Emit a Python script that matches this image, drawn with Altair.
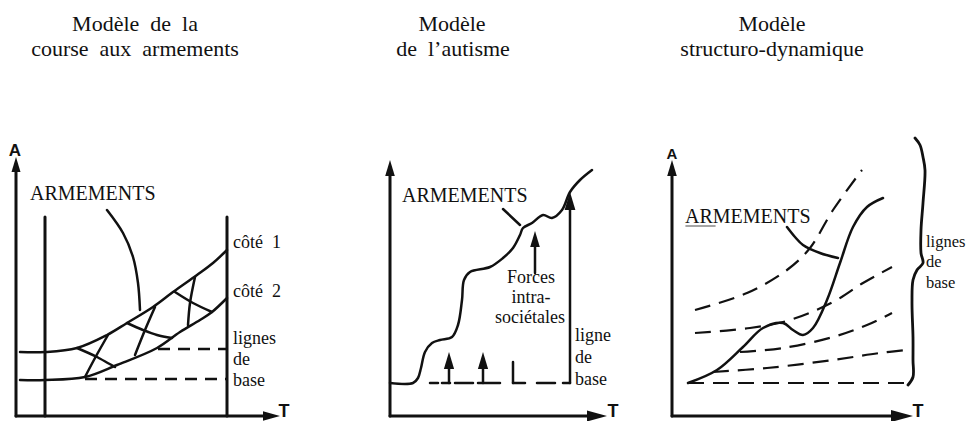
import altair as alt
import pandas as pd

# ---------------- drawing data (diagram coordinates) ----------------
# Panel 1 : Modèle de la course aux armements
p1_axis_y_x = [16, 16];          p1_axis_y_y = [166, 416]
p1_axis_x_x = [16, 268];         p1_axis_x_y = [416, 416]
p1_left_x = [45, 45];            p1_left_y = [217, 416]
p1_right_x = [227, 227];         p1_right_y = [217, 416]
p1_side1_x = [20, 45, 77, 107, 127, 153, 173, 197, 213, 227]
p1_side1_y = [352, 352, 348, 335, 323, 307, 292, 275, 263, 250]
p1_side2_x = [20, 45, 85, 117, 157, 180, 200, 212, 227]
p1_side2_y = [380, 380, 377, 365, 348, 332, 320, 312, 298]
p1_h1_x = [77, 97, 115];         p1_h1_y = [348, 357, 367]
p1_h2_x = [85, 95, 108];         p1_h2_y = [377, 358, 335]
p1_h3_x = [127, 143, 157, 172];  p1_h3_y = [323, 330, 335, 338]
p1_h4_x = [135, 145, 155];       p1_h4_y = [355, 330, 307]
p1_h5_x = [175, 193, 212];       p1_h5_y = [292, 303, 312]
p1_h6_x = [188, 190, 195];       p1_h6_y = [325, 303, 277]
p1_ptr_x = [107, 123, 133, 138, 140]
p1_ptr_y = [210, 233, 257, 283, 310]
p1_dash_hi_x = [158, 227];       p1_dash_hi_y = [349, 349]
p1_dash_lo_x = [85, 227];        p1_dash_lo_y = [379, 379]

# Panel 2 : Modèle de l'autisme
p2_axis_y_x = [390, 390];        p2_axis_y_y = [172, 416]
p2_axis_x_x = [390, 592];        p2_axis_x_y = [416, 416]
p2_curve_x = [390, 413, 418, 421, 425, 432, 440, 452, 458, 462, 464, 470, 490,
              503, 513, 520, 523, 532, 543, 552, 562, 570, 580, 592]
p2_curve_y = [383, 383, 378, 368, 352, 343, 340, 337, 325, 300, 280, 272, 267,
              258, 248, 235, 228, 223, 215, 218, 210, 192, 180, 170]
p2_ptr_x = [503, 520];           p2_ptr_y = [209, 225]
p2_base_pieces = [  # (x0, x1) on the ligne de base
    (430, 438), (442, 450), (455, 473), (478, 500), (513, 525), (537, 555), (563, 570)]
p2_base_y = 383
p2_shafts = [  # (x, y_bottom, y_top)
    (449, 383, 366), (483, 383, 366), (513, 383, 362), (535, 273, 245), (570, 383, 206)]

# Panel 3 : Modèle structuro-dynamique
p3_axis_y_x = [672, 672];        p3_axis_y_y = [172, 416]
p3_axis_x_x = [672, 894];        p3_axis_x_y = [416, 416]
p3_curve_x = [688, 717, 743, 763, 783, 793, 803, 813, 827, 840, 853, 867, 883]
p3_curve_y = [383, 370, 347, 328, 323, 330, 335, 328, 300, 263, 227, 207, 198]
p3_ptr_x = [787, 795, 803, 820, 838]
p3_ptr_y = [227, 237, 245, 253, 258]
p3_d1_x = [695, 747, 787, 810, 833, 862];  p3_d1_y = [310, 293, 270, 248, 210, 170]
p3_d2_x = [695, 750, 790, 833, 863, 892];  p3_d2_y = [333, 328, 320, 302, 283, 267]
p3_d3_x = [740, 783, 833, 867, 892];       p3_d3_y = [352, 348, 337, 325, 313]
p3_d4_x = [713, 767, 833, 880, 907];       p3_d4_y = [372, 368, 360, 353, 350]
p3_d5_x = [688, 907];                      p3_d5_y = [383, 383]
p3_brace_x = [915, 920, 923, 925, 923, 921, 921, 923, 917, 913, 912, 913, 913, 913, 908]
p3_brace_y = [138, 145, 157, 170, 203, 230, 253, 263, 270, 280, 303, 337, 360, 377, 385]
p3_uline_x = [686, 715];                   p3_uline_y = [226, 226]

# arrow heads: centre x, centre y, size
up_x = [16, 390, 672, 449, 483, 535, 570]
up_y = [164.5, 168, 168, 360.5, 360.5, 239, 201]
up_s = [225, 256, 256, 289, 289, 256, 324]
right_x = [271.5, 597, 902]
right_y = [416, 416, 416]
right_s = [289, 400, 484]

# texts
title_text = ["Modèle\u00a0 de\u00a0 la", "course\u00a0 aux\u00a0 armements", "Modèle",
              "de\u00a0 l’autisme", "Modèle", "structuro-dynamique"]
title_x = [135, 135, 452, 453, 772, 772]
title_y = [31, 56, 31, 56, 31, 56]
caps_text = ["ARMEMENTS", "ARMEMENTS", "ARMEMENTS"]
caps_x = [30, 402, 685]
caps_y = [200, 202, 223]
lab_text = ["côté\u00a0 1", "côté\u00a0 2", "lignes", "de", "base",
            "ligne", "de", "base"]
lab_x = [233, 233, 233, 233, 233, 575, 575, 575]
lab_y = [248, 297, 344, 365, 386, 341, 363, 385]
lab3_text = ["lignes", "de", "base"]
lab3_x = [926, 926, 926]
lab3_y = [247, 267, 288]
forces_text = ["Forces", "intra-", "sociétales"]
forces_x = [531, 531, 530]
forces_y = [283, 303, 323]
letter_text = ["A", "A", "T", "T", "T"]
letter_x = [15, 672, 284, 613, 918]
letter_y = [156, 159, 421, 421, 421]
letter_s = [17, 15, 18, 18, 18]
letter_base = ["alphabetic", "alphabetic", "bottom", "bottom", "bottom"]

# ---------------- chart construction ----------------
INK = "#111111"
XS = alt.Scale(domain=[8, 968], range=[0, 960], nice=False, zero=False)
YS = alt.Scale(domain=[8, 421], range=[0, 413], nice=False, zero=False)
X = alt.X("x:Q", scale=XS, axis=None)
Y = alt.Y("y:Q", scale=YS, axis=None)


def table(lines):
    rows = []
    for name, xs, ys in lines:
        for i, (x, y) in enumerate(zip(xs, ys)):
            rows.append({"id": name, "i": i, "x": x, "y": y})
    return pd.DataFrame(rows)


def line_layer(lines, width, interp, dash=None, color=INK):
    kw = dict(color=color, strokeWidth=width, interpolate=interp,
              strokeCap="butt" if dash else "round", strokeJoin="round")
    if dash:
        kw["strokeDash"] = dash
    return alt.Chart(table(lines)).mark_line(**kw).encode(
        x=X, y=Y, detail="id:N", order="i:Q")


axes = [
    ("a1y", p1_axis_y_x, p1_axis_y_y), ("a1x", p1_axis_x_x, p1_axis_x_y),
    ("a2y", p2_axis_y_x, p2_axis_y_y), ("a2x", p2_axis_x_x, p2_axis_x_y),
    ("a3y", p3_axis_y_x, p3_axis_y_y), ("a3x", p3_axis_x_x, p3_axis_x_y),
    ("p1l", p1_left_x, p1_left_y), ("p1r", p1_right_x, p1_right_y),
]
straight = [("p2ptr", p2_ptr_x, p2_ptr_y)]
for k, (x0, x1) in enumerate(p2_base_pieces):
    straight.append((f"b{k}", [x0, x1], [p2_base_y, p2_base_y]))
for k, (x, yb, yt) in enumerate(p2_shafts):
    straight.append((f"s{k}", [x, x], [yb, yt]))

curves = [
    ("s1", p1_side1_x, p1_side1_y), ("s2", p1_side2_x, p1_side2_y),
    ("h1", p1_h1_x, p1_h1_y), ("h2", p1_h2_x, p1_h2_y), ("h3", p1_h3_x, p1_h3_y),
    ("h4", p1_h4_x, p1_h4_y), ("h5", p1_h5_x, p1_h5_y), ("h6", p1_h6_x, p1_h6_y),
    ("ptr1", p1_ptr_x, p1_ptr_y),
    ("c2", p2_curve_x, p2_curve_y),
    ("c3", p3_curve_x, p3_curve_y), ("ptr3", p3_ptr_x, p3_ptr_y),
]
brace = [("br", p3_brace_x, p3_brace_y)]
dashed1 = [("dh", p1_dash_hi_x, p1_dash_hi_y), ("dl", p1_dash_lo_x, p1_dash_lo_y)]
dashed3 = [("d1", p3_d1_x, p3_d1_y), ("d2", p3_d2_x, p3_d2_y), ("d3", p3_d3_x, p3_d3_y),
           ("d4", p3_d4_x, p3_d4_y), ("d5", p3_d5_x, p3_d5_y)]
uline = [("u", p3_uline_x, p3_uline_y)]

UP = "M0,-1L0.6,1L-0.6,1Z"
RIGHT = "M1,0L-1,0.55L-1,-0.55Z"


def head_layer(xs, ys, ss, path):
    df = pd.DataFrame({"x": xs, "y": ys, "s": ss})
    return alt.Chart(df).mark_point(shape=path, filled=True, color=INK, opacity=1,
                                    strokeWidth=0).encode(
        x=X, y=Y, size=alt.Size("s:Q", scale=None))


def text_layer(texts, xs, ys, font, size, weight="normal", align="left"):
    df = pd.DataFrame({"t": texts, "x": xs, "y": ys})
    return alt.Chart(df).mark_text(font=font, fontSize=size, fontWeight=weight,
                                   align=align, baseline="alphabetic", color=INK).encode(
        x=X, y=Y, text="t:N")


def letters_layer(base):
    idx = [i for i, b in enumerate(letter_base) if b == base]
    df = pd.DataFrame({"t": [letter_text[i] for i in idx],
                       "x": [letter_x[i] for i in idx],
                       "y": [letter_y[i] for i in idx],
                       "s": [letter_s[i] for i in idx]})
    return alt.Chart(df).mark_text(font="Liberation Sans", fontWeight="bold",
                                   align="center", baseline=base, color=INK).encode(
        x=X, y=Y, text="t:N", size=alt.Size("s:Q", scale=None))


SERIF = "Liberation Serif"
layers = [
    line_layer(axes, 3.0, "linear"),
    line_layer(straight, 2.5, "linear"),
    line_layer(curves, 2.5, "catmull-rom"),
    line_layer(brace, 2.8, "catmull-rom"),
    line_layer(dashed1, 2.4, "linear", dash=[12, 8]),
    line_layer(dashed3, 2.2, "catmull-rom", dash=[16, 9]),
    line_layer(uline, 1.6, "linear", color="#888888"),
    head_layer(up_x, up_y, up_s, UP),
    head_layer(right_x, right_y, right_s, RIGHT),
    text_layer(title_text, title_x, title_y, SERIF, 22, align="center"),
    text_layer(caps_text, caps_x, caps_y, SERIF, 20),
    text_layer(lab_text, lab_x, lab_y, SERIF, 18),
    text_layer(lab3_text, lab3_x, lab3_y, SERIF, 16.5),
    text_layer(forces_text, forces_x, forces_y, SERIF, 18, align="center"),
    letters_layer("alphabetic"),
    letters_layer("bottom"),
]

chart = alt.layer(*layers).properties(
    width=960, height=413, padding=0, autosize="none", background="white"
).configure_view(strokeWidth=0)

chart.save("out.html", embed_options={"renderer": "svg", "actions": False})
